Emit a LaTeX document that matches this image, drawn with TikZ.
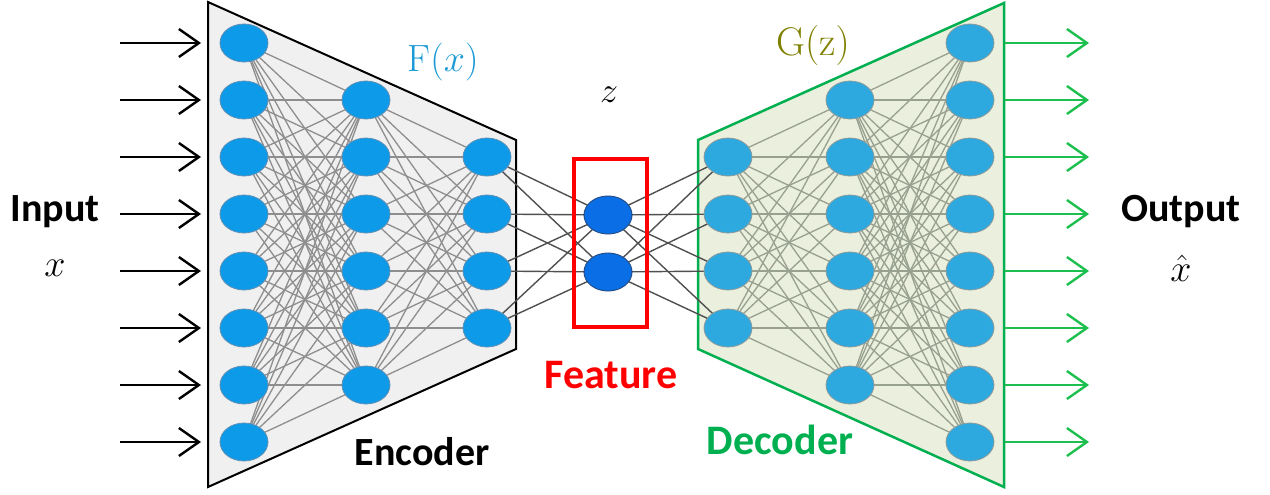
\RequirePackage{fix-cm}
\documentclass[tikz,border=0pt]{standalone}
\usepackage{fontspec}
\setsansfont{Carlito}
\usetikzlibrary{shapes.geometric,arrows.meta}
\pgfdeclarelayer{back}
\pgfdeclarelayer{mid}
\pgfsetlayers{back,mid,main}

\definecolor{encblue}{HTML}{0D9AE8}
\definecolor{encrim}{HTML}{5E8FB5}
\definecolor{featblue}{HTML}{0A6FE6}
\definecolor{featrim}{HTML}{24508A}
\definecolor{decblue}{HTML}{2DA9DF}
\definecolor{decrim}{HTML}{8C9A9A}
\definecolor{encbg}{HTML}{F0F0F0}
\definecolor{decbg}{HTML}{EBEFDD}
\definecolor{decline}{HTML}{00B050}
\definecolor{outgreen}{HTML}{1DBF4F}
\definecolor{fxblue}{HTML}{1B9AD6}
\definecolor{gzolive}{HTML}{808000}
\definecolor{encedge}{HTML}{8E8E8E}
\definecolor{decedge}{HTML}{98A090}
\definecolor{midedge}{HTML}{505050}

\tikzset{
  neuron/.style={ellipse, minimum width=48, minimum height=38, inner sep=0pt, line width=0.8pt},
  enode/.style={neuron, fill=encblue, draw=encrim},
  fnode/.style={neuron, fill=featblue, draw=featrim, line width=1pt},
  dnode/.style={neuron, fill=decblue, draw=decrim},
  eedge/.style={draw=encedge, line width=1.3pt},
  dedge/.style={draw=decedge, line width=1.3pt},
  medge/.style={draw=midedge, line width=1.4pt},
  inarrow/.style={draw=black, line width=2.4pt, -{Straight Barb[length=20pt,width=28pt,line width=2.4pt]}},
  outarrow/.style={draw=outgreen, line width=2.4pt, -{Straight Barb[length=20pt,width=28pt,line width=2.4pt]}},
  bigword/.style={font=\sffamily\bfseries\fontsize{40}{44}\selectfont, inner sep=0pt},
  mathword/.style={font=\fontsize{38}{42}\selectfont, inner sep=0pt},
}

\begin{document}
\begin{tikzpicture}[x=1pt,y=-1pt]
\useasboundingbox (0,0) rectangle (1270,495);

% ---------- neurons ----------
\foreach \i in {1,...,8} \node[enode] (a\i) at (244,{43+57*(\i-1)}) {};
\foreach \i in {1,...,6} \node[enode] (b\i) at (366,{100+57*(\i-1)}) {};
\foreach \i in {1,...,4} \node[enode] (c\i) at (487,{157+57*(\i-1)}) {};
\node[fnode] (f1) at (608,215) {};
\node[fnode] (f2) at (608,272) {};
\foreach \i in {1,...,4} \node[dnode] (d\i) at (728,{157+57*(\i-1)}) {};
\foreach \i in {1,...,6} \node[dnode] (e\i) at (850,{100+57*(\i-1)}) {};
\foreach \i in {1,...,8} \node[dnode] (g\i) at (970,{43+57*(\i-1)}) {};

% feature box
\node[draw=red, line width=3.5pt, minimum width=73, minimum height=168, inner sep=0pt] (box) at (610.5,243) {};

% ---------- encoder / decoder panels ----------
\begin{pgfonlayer}{back}
  \draw[fill=encbg, draw=black, line width=2pt, line join=miter]
    (208,2) -- (516,140) -- (516,349) -- (208,487) -- cycle;
  \draw[fill=decbg, draw=decline, line width=2.5pt, line join=miter]
    (698,140) -- (1004,3) -- (1004,487) -- (698,349) -- cycle;
\end{pgfonlayer}

% ---------- connections ----------
\begin{pgfonlayer}{mid}
  \foreach \i in {1,...,8} \foreach \j in {1,...,6} \draw[eedge] (a\i.center) -- (b\j.center);
  \foreach \i in {1,...,6} \foreach \j in {1,...,4} \draw[eedge] (b\i.center) -- (c\j.center);
  \foreach \i in {1,...,4} \foreach \j in {1,2} \draw[medge] (c\i.center) -- (f\j.center);
  \foreach \i in {1,2} \foreach \j in {1,...,4} \draw[medge] (f\i.center) -- (d\j.center);
  \foreach \i in {1,...,4} \foreach \j in {1,...,6} \draw[dedge] (d\i.center) -- (e\j.center);
  \foreach \i in {1,...,6} \foreach \j in {1,...,8} \draw[dedge] (e\i.center) -- (g\j.center);
\end{pgfonlayer}

% ---------- input and output arrows ----------
\foreach \i in {1,...,8} {
  \coordinate (s\i) at (120,{43+57*(\i-1)});
  \coordinate (t\i) at (201,{43+57*(\i-1)});
  \draw[inarrow] (s\i) -- (t\i);
  \coordinate (u\i) at (1005,{43+57*(\i-1)});
  \coordinate (v\i) at (1089,{43+57*(\i-1)});
  \draw[outarrow] (u\i) -- (v\i);
}

% ---------- labels ----------
\node[bigword] (inlbl) at (55,212) {Input};
\node[mathword] (inx) at (55,268) {$x$};
\node[bigword] (outlbl) at (1181,212) {Output};
\node[mathword] (outx) at (1181,268) {$\hat{x}$};
\node[mathword, text=fxblue, font=\fontsize{38}{42}\selectfont] (fx) at (443,62) {$\mathrm{F}(x)$};
\node[mathword, text=gzolive, font=\fontsize{40}{44}\selectfont] (gz) at (813,46) {$\mathrm{G}(\mathrm{z})$};
\node[mathword, font=\fontsize{36}{40}\selectfont] (zlbl) at (609,95) {$z$};
\node[bigword, text=red, font=\sffamily\bfseries\fontsize{42}{46}\selectfont] (featlbl) at (611,375) {Feature};
\node[bigword] (enclbl) at (422,452) {Encoder};
\node[bigword, text=decline, font=\sffamily\bfseries\fontsize{42}{46}\selectfont] (declbl) at (780,440) {Decoder};
\end{tikzpicture}
\end{document}
